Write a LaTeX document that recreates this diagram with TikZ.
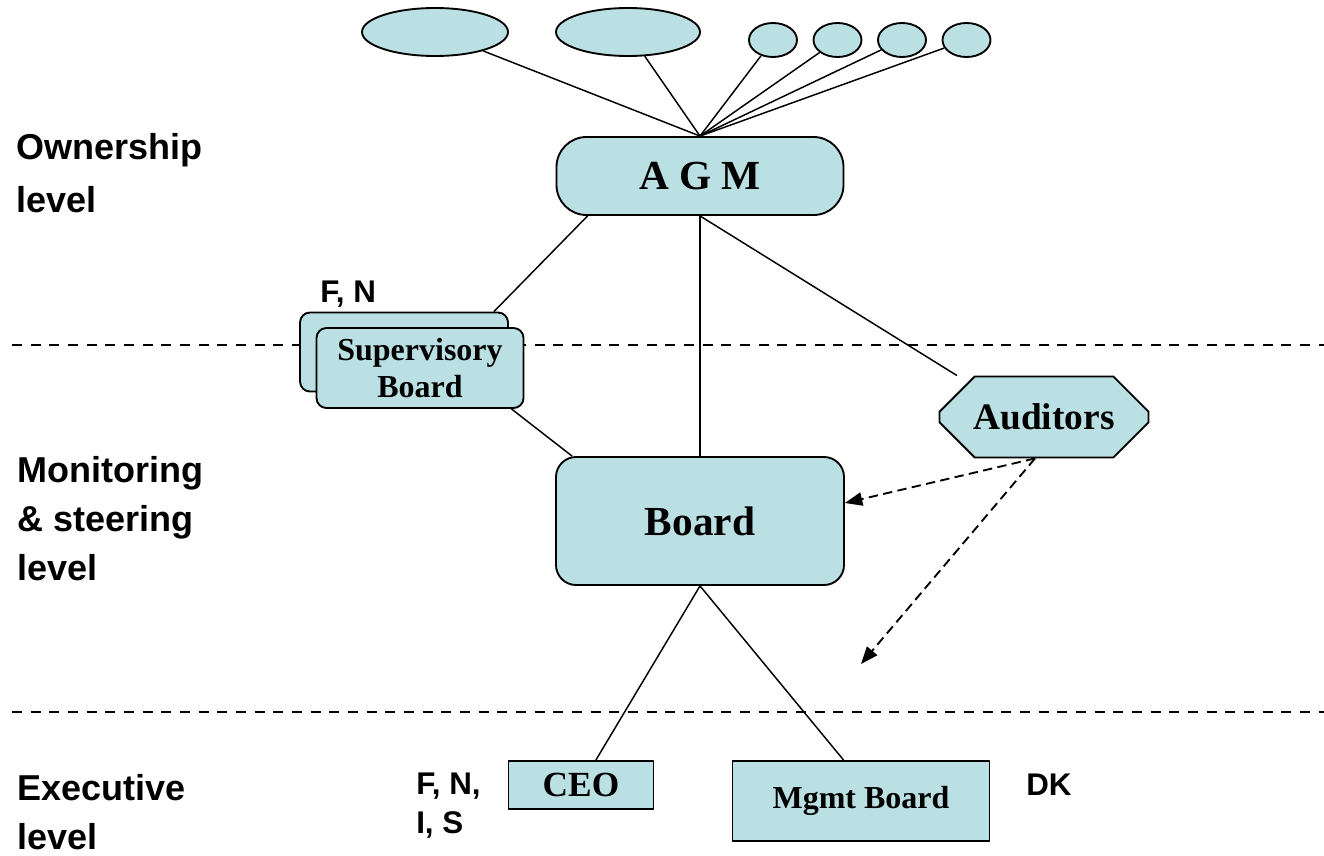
\documentclass[tikz,border=0pt]{standalone}
\usepackage{fontspec}
\setmainfont{Liberation Serif}
\newfontfamily\arialfont{Liberation Sans}
\usetikzlibrary{shapes.geometric,shapes.misc,arrows.meta,calc}
\definecolor{boxfill}{RGB}{187,224,227}

\begin{document}
\begin{tikzpicture}[x=0.75pt,y=-0.75pt,line join=round,>={Triangle[length=13pt,width=10pt]},
    boxed/.style={draw,line width=1.4pt,fill=boxfill,inner sep=0pt,align=center,font=\bfseries},
    owner/.style={boxed,ellipse},
    level/.style={anchor=base west,align=left,inner sep=0pt,font=\arialfont\bfseries\fontsize{27}{36.75}\selectfont},
    country/.style={level,font=\arialfont\bfseries\fontsize{23.5}{29.25}\selectfont},
    link/.style={line width=1.1pt},
    audit/.style={->,line width=1.4pt,dash pattern=on 7pt off 4pt},
    divider/.style={line width=2pt,dash pattern=on 7.5pt off 6.5pt}]
    \useasboundingbox (0,0) rectangle (1324,856);
    % level borders
    \coordinate (d1l) at (12,345);
    \coordinate (d1r) at (1324,345);
    \coordinate (d2l) at (12,712);
    \coordinate (d2r) at (1324,712);
    \draw[divider] (d1l) -- (d1r);
    \draw[divider] (d2l) -- (d2r);
    % owners
    \node[owner,minimum width=109.5pt,minimum height=36pt] (own1) at (435,32) {};
    \node[owner,minimum width=108pt,minimum height=36pt] (own2) at (628,32) {};
    \foreach \i in {0,...,3}
        \node[owner,minimum width=36pt,minimum height=25.5pt] (small\i) at (773+64.5*\i,40) {};
    % bodies
    \node[boxed,rounded corners=22.5pt,minimum width=215.25pt,minimum height=58.5pt,
        font=\bfseries\fontsize{31}{36}\selectfont] (agm) at (700,176) {A G M};
    \node[boxed,rounded corners=7.5pt,minimum width=156pt,minimum height=59.25pt] (supb) at (404,352) {};
    \node[boxed,rounded corners=7.5pt,minimum width=155.25pt,minimum height=60pt,
        font=\bfseries\fontsize{24}{27.75}\selectfont] (supf) at (420,368) {Supervisory\\Board};
    \node[boxed,chamfered rectangle,chamfered rectangle xsep=16.5pt,chamfered rectangle ysep=16.5pt,
        minimum width=156.75pt,minimum height=60.75pt,
        font=\bfseries\fontsize{28}{32}\selectfont] (aud) at (1044,417) {Auditors};
    \node[boxed,rounded corners=15pt,minimum width=216pt,minimum height=96pt,
        font=\bfseries\fontsize{31}{36}\selectfont] (board) at (700,521) {Board};
    \node[boxed,minimum width=108.75pt,minimum height=36pt,
        font=\bfseries\fontsize{26.5}{30}\selectfont] (ceo) at (581,785) {CEO};
    \node[boxed,minimum width=192.75pt,minimum height=60pt,
        font=\bfseries\fontsize{24}{28}\selectfont] (mgmt) at (861,801) {\raisebox{-3pt}{Mgmt Board}};
    \coordinate (audfree) at (861,664);
    % connectors
    \draw[link] (own1) -- (agm.north);
    \draw[link] (own2) -- (agm.north);
    \foreach \i in {0,...,3}
        \draw[link] (small\i) -- (agm.north);
    \draw[link] ($(agm.south west)+(32,0)$) -- ($(supb.north east)+(-15,0)$);
    \draw[link] ($(supf.south east)+(-13,0)$) -- ($(board.north west)+(17,0)$);
    \draw[link] (agm.south) -- (board.north);
    \draw[link] (agm.south) -- ($(aud.north)+(-87,0)$);
    \draw[link] (board.south) -- (ceo);
    \draw[link] (board.south) -- ($(mgmt.north west)+(112,0)$);
    \draw[audit] ($(aud.south)+(-9,0)$) -- ($(board.east)+(0,-18)$);
    \draw[audit] ($(aud.south)+(-9,0)$) -- (audfree);
    % labels
    \node[level] (lown) at (16,212) {Ownership\\[3pt]level};
    \node[level] (lmon) at (17,580) {Monitoring\\\& steering\\level};
    \node[level] (lexe) at (17,849) {Executive\\level};
    \node[country] (csup) at (320,302) {F, N};
    \node[country] (cceo) at (416,833) {F, N,\\I, S};
    \node[country] (cdk) at (1026,795) {DK};
\end{tikzpicture}
\end{document}
